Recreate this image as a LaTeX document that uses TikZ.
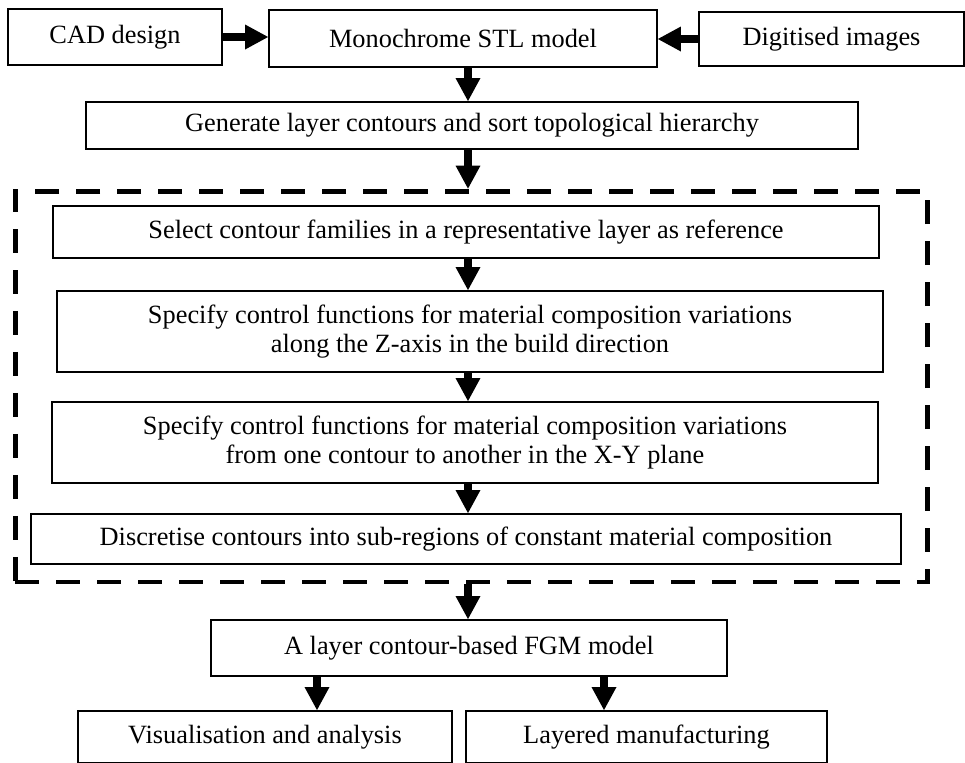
\documentclass[tikz,border=0pt]{standalone}
\usepackage{fontspec}
\setmainfont{Liberation Serif}
\usetikzlibrary{arrows.meta}

\begin{document}
\begin{tikzpicture}[x=0.02cm,y=-0.02cm,
  box/.style={draw=black,line width=1.1pt,align=center,inner sep=0pt,
    font=\fontsize{15}{16.5}\selectfont},
  group/.style={draw=black,line width=2.8pt,dash pattern=on 0.48cm off 0.34cm},
  flow/.style={line width=4.5pt,-{Triangle[width=0.5cm 0 0,length=0.46cm 0 0,line width=0pt]}}]
 \useasboundingbox (0,0) rectangle (965,762);
 % dashed group round the four inner steps
 \node [group,minimum width=18.26cm,minimum height=7.82cm] (grp) at (471.5,386.5) {};
 % sources and the STL model
 \node [box,minimum width=4.28cm,minimum height=1.12cm] (cad) at (115,37) {CAD design};
 \node [box,minimum width=7.76cm,minimum height=1.14cm] (stl) at (463,38.5) {Monochrome STL model};
 \node [box,minimum width=5.30cm,minimum height=1.08cm] (dig) at (831.5,39) {Digitised images};
 \node [box,minimum width=15.44cm,minimum height=0.94cm] (gen) at (472,125.5)
   {Generate layer contours and sort topological hierarchy};
 % steps inside the group
 \node [box,minimum width=16.52cm,minimum height=1.04cm] (sel) at (466,232)
   {Select contour families in a representative layer as reference};
 \node [box,minimum width=16.52cm,minimum height=1.62cm] (zvar) at (470,331.5)
   {Specify control functions for material composition variations\\
    along the Z-axis in the build direction};
 \node [box,minimum width=16.52cm,minimum height=1.62cm] (xyvar) at (465,442.5)
   {Specify control functions for material composition variations\\
    from one contour to another in the X-Y plane};
 \node [box,minimum width=17.40cm,minimum height=1.00cm] (disc) at (466,539)
   {Discretise contours into sub-regions of constant material composition};
 % model and its uses
 \node [box,minimum width=10.32cm,minimum height=1.12cm] (fgm) at (469,648) {A layer contour-based FGM model};
 \node [box,minimum width=7.48cm,minimum height=1.04cm] (vis) at (265,737) {Visualisation and analysis};
 \node [box,minimum width=7.22cm,minimum height=1.04cm] (man) at (646.5,737) {Layered manufacturing};
 % arrows
 \coordinate (ax) at (468,0);
 \coordinate (bl) at (317,0);
 \coordinate (br) at (604,0);
 \draw [flow] (cad.east) -- (cad.east -| stl.west);
 \draw [flow] (dig.west) -- (dig.west -| stl.east);
 \draw [flow] (stl.south -| ax) -- (gen.north -| ax);
 \draw [flow] (gen.south -| ax) -- (grp.north -| ax);
 \draw [flow] (sel.south -| ax) -- (zvar.north -| ax);
 \draw [flow] (zvar.south -| ax) -- (xyvar.north -| ax);
 \draw [flow] (xyvar.south -| ax) -- (disc.north -| ax);
 \draw [flow] (grp.south -| ax) -- (fgm.north -| ax);
 \draw [flow] (fgm.south -| bl) -- (vis.north -| bl);
 \draw [flow] (fgm.south -| br) -- (man.north -| br);
\end{tikzpicture}
\end{document}
